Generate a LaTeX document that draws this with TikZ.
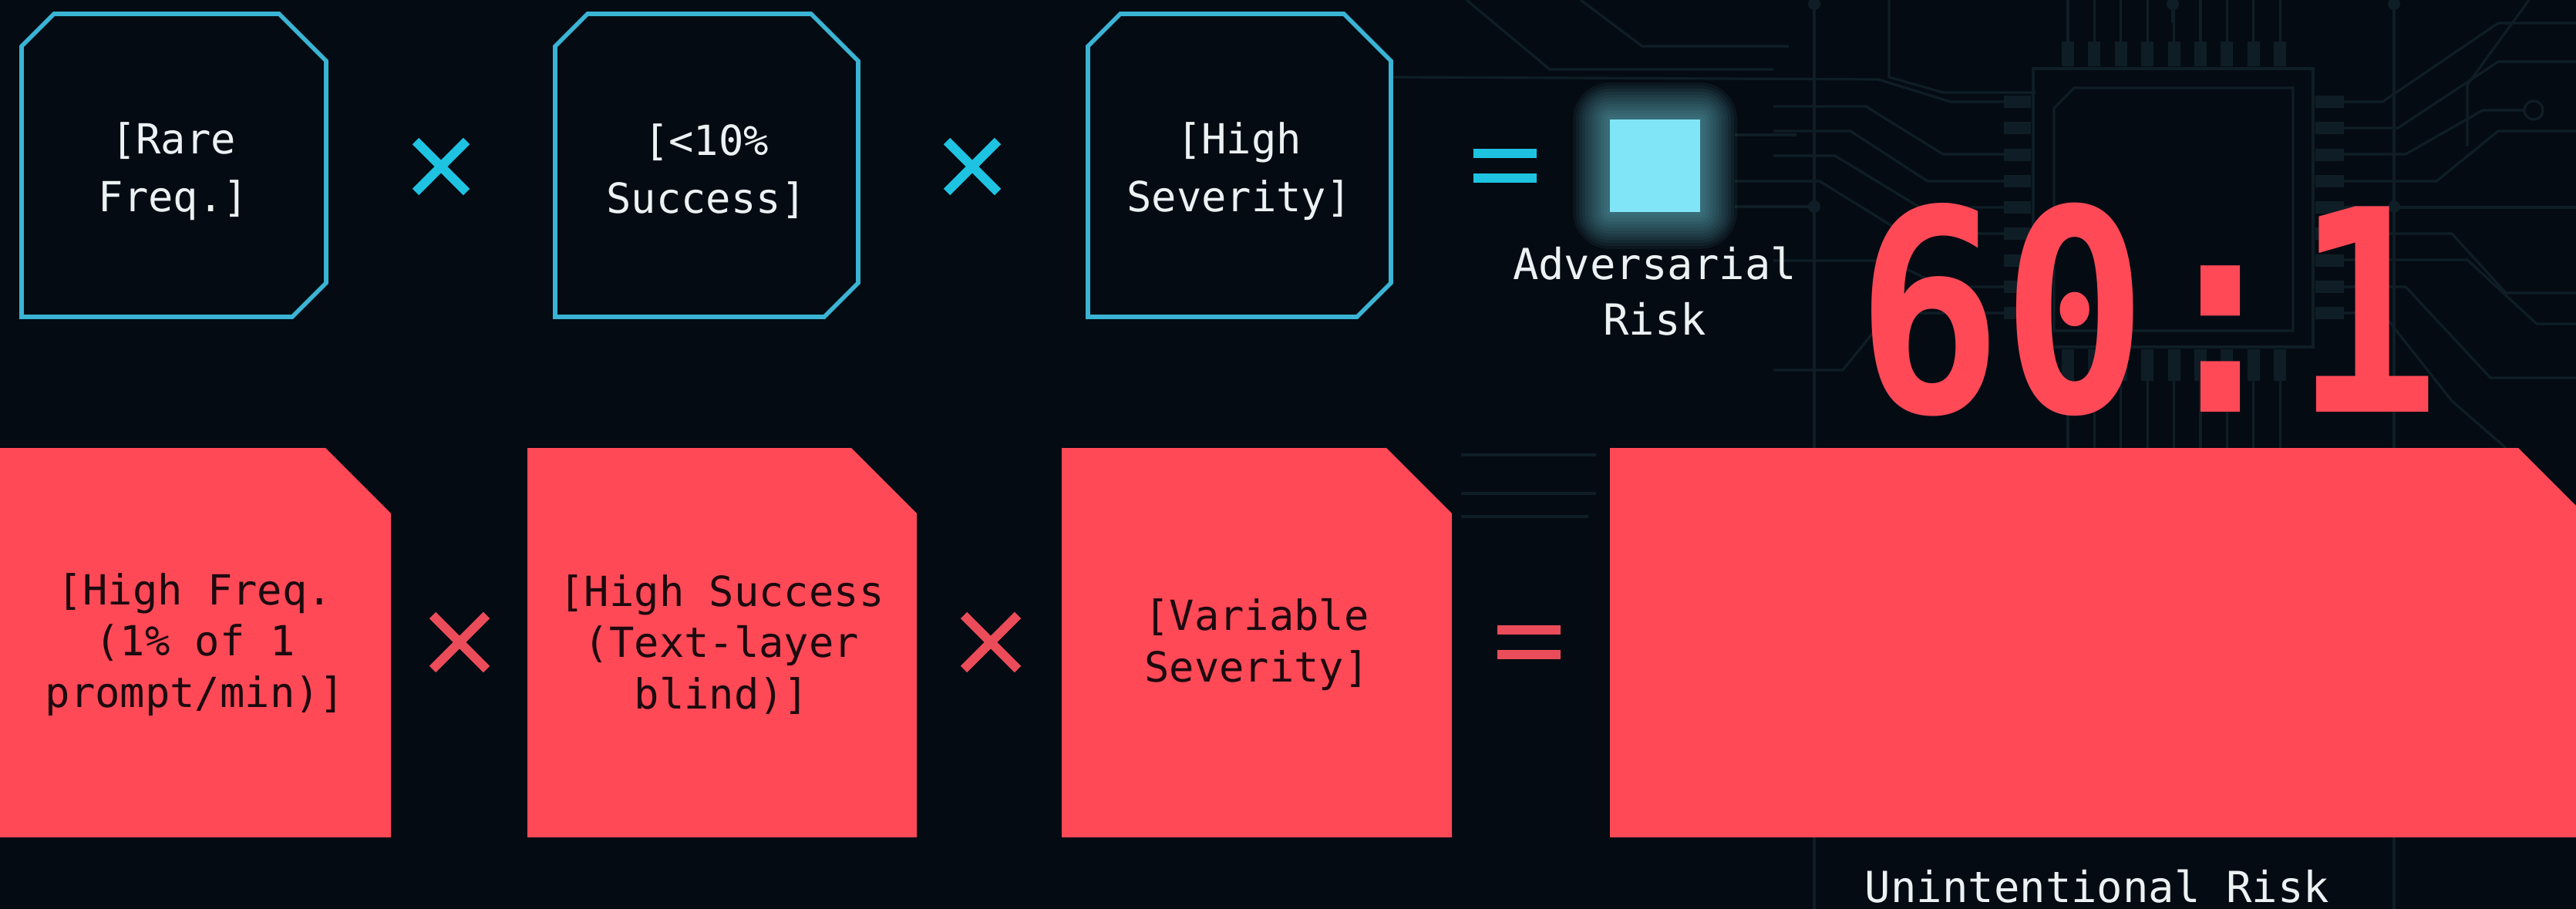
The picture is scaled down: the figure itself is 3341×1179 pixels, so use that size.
\documentclass[tikz,border=0pt]{standalone}
\usepackage{fontspec}
\newfontfamily\mono{DejaVu Sans Mono}
\definecolor{bg}{HTML}{050B13}
\definecolor{trace}{HTML}{0F1E26}
\definecolor{cyanline}{HTML}{3AB4D4}
\definecolor{cyanop}{HTML}{1EC3E2}
\definecolor{glowc}{HTML}{80E5F6}
\definecolor{redbox}{HTML}{FF4957}
\definecolor{redop}{HTML}{EB4C59}
\definecolor{darktext}{HTML}{1C0A0F}
\definecolor{lighttext}{HTML}{ECF1F3}
\tikzset{
  cyanbox/.style={draw=cyanline, line width=1.6pt, fill=bg, line join=miter},
  redshape/.style={fill=redbox},
  toptext/.style={font=\mono\fontsize{15.3}{21.3}\selectfont, text=lighttext, align=center, inner sep=0pt},
  bottext/.style={font=\mono\fontsize{15.3}{19}\selectfont, text=darktext, align=center, inner sep=0pt},
  captext/.style={font=\mono\fontsize{15.8}{20.5}\selectfont, text=lighttext, align=center, inner sep=0pt},
  cyanstroke/.style={draw=cyanop, line width=3.4pt},
  redstroke/.style={draw=redop, line width=3.4pt},
  tr/.style={draw=trace, line width=0.9pt},
}
\begin{document}
\begin{tikzpicture}[x=0.01cm,y=-0.01cm]
\path[use as bounding box] (0,0) rectangle (3341,1179);
\clip (0,0) rectangle (3341,1179);
\fill[bg] (0,0) rectangle (3341,1179);

% ---------- background circuit ----------
\draw[tr] (2353,0) -- (2353,1179);
\draw[tr] (3105,0) -- (3105,1179);
\draw[tr] (2818,0) -- (2818,30);
\foreach \p in {(2353,268),(3105,268),(2818,5),(3105,5),(2353,5)}
  \fill[trace] \p circle (8);
% chip
\draw[tr] (2637,89) rectangle (3000,450);
\draw[tr] (2664,140) -- (2690,114) -- (2974,114) -- (2974,429) -- (2664,429) -- cycle;
\foreach \i in {0,...,8}{
  \pgfmathsetmacro\xx{2682+34.4*\i}
  \fill[trace] (\xx-8,54) rectangle (\xx+8,86);
  \draw[tr] (\xx,0) -- (\xx,54);
  \fill[trace] (\xx-8,453) rectangle (\xx+8,494);
  \draw[tr] (\xx,494) -- (\xx,581);
  \pgfmathsetmacro\yy{132+34.3*\i}
  \fill[trace] (2599,\yy-8) rectangle (2634,\yy+8);
  \fill[trace] (3003,\yy-8) rectangle (3040,\yy+8);
}
% left traces
\draw[tr] (1808,100) -- (2436,103) -- (2530,132) -- (2599,132);
\draw[tr] (2300,138) -- (2420,138) -- (2520,200) -- (2599,200);
\draw[tr] (2300,170) -- (2400,170) -- (2500,235) -- (2599,235);
\draw[tr] (2300,202) -- (2380,202) -- (2490,269) -- (2599,269);
\draw[tr] (2250,235) -- (2360,235) -- (2470,303) -- (2599,303);
\draw[tr] (2250,268) -- (2353,268);
\draw[tr] (2300,338) -- (2450,338) -- (2520,372) -- (2599,372);
\draw[tr] (2300,480) -- (2390,480) -- (2450,406) -- (2599,406);
\draw[tr] (1902,0) -- (2010,90) -- (2300,90);
\draw[tr] (2050,0) -- (2130,60) -- (2320,60);
\draw[tr] (2450,0) -- (2450,100) -- (2520,120) -- (2640,120);
\draw[tr] (2250,175) -- (2330,175);
% right traces
\draw[tr] (3040,132) -- (3090,132) -- (3240,30) -- (3341,30);
\draw[tr] (3040,166) -- (3110,166) -- (3240,80) -- (3341,80);
\draw[tr] (3040,200) -- (3120,200) -- (3220,143) -- (3274,143);
\draw[trace, line width=0.9pt] (3286,143) circle (12);
\draw[tr] (3040,235) -- (3160,235) -- (3240,170) -- (3341,170);
\draw[tr] (3040,269) -- (3341,269);
\draw[tr] (3040,303) -- (3180,303) -- (3250,380) -- (3341,380);
\draw[tr] (3040,337) -- (3200,337) -- (3290,420) -- (3341,420);
\draw[tr] (3040,372) -- (3120,372) -- (3230,490) -- (3341,490);
\draw[tr] (3040,406) -- (3090,406) -- (3180,520) -- (3250,581);
\draw[tr] (3280,0) -- (3200,110) -- (3200,190);
% lower faint traces
\draw[tr] (1895,590) -- (2070,590);
\draw[tr] (1895,640) -- (2070,640);
\draw[tr] (1895,670) -- (2060,670);

% ---------- top row (cyan) ----------
\path[cyanbox] (28,60) -- (70,18) -- (362,18) -- (423,79) -- (423,367) -- (379,411) -- (28,411) -- cycle;
\path[cyanbox] (720,60) -- (762,18) -- (1052,18) -- (1113,79) -- (1113,367) -- (1069,411) -- (720,411) -- cycle;
\path[cyanbox] (1411,60) -- (1453,18) -- (1743,18) -- (1804,79) -- (1804,367) -- (1760,411) -- (1411,411) -- cycle;
\node[toptext] (t1) at (225,222) {[Rare\\Freq.]};
\node[toptext] (t2) at (916,222) {[<10\%\\Success]};
\node[toptext] (t3) at (1607,222) {[High\\Severity]};

\draw[cyanstroke] (539,183) -- (605,249) (539,249) -- (605,183);
\draw[cyanstroke] (1228,183) -- (1294,249) (1228,249) -- (1294,183);
\draw[cyanstroke] (1911,199) -- (1993,199) (1911,231) -- (1993,231);

% glowing square
\foreach \g in {48,44,...,4}
  \fill[glowc, opacity=0.05, rounded corners=\g*0.01cm] (2088-\g,155-\g) rectangle (2205+\g,275+\g);
\fill[glowc] (2088,155) rectangle (2205,275);
\node[captext] (adv) at (2146,378) {Adversarial\\Risk};

% ratio
\node[font=\mono\bfseries\fontsize{104}{104}\selectfont, text=redbox, xscale=0.86, inner sep=0pt] (ratio) at (2786,402) {60:1};

% ---------- bottom row (red) ----------
\path[redshape] (0,581) -- (422,581) -- (507,666) -- (507,1086) -- (0,1086) -- cycle;
\path[redshape] (684,581) -- (1104,581) -- (1189,666) -- (1189,1086) -- (684,1086) -- cycle;
\path[redshape] (1377,581) -- (1798,581) -- (1883,666) -- (1883,1086) -- (1377,1086) -- cycle;
\path[redshape] (2088,581) -- (3266,581) -- (3351,666) -- (3351,1086) -- (2088,1086) -- cycle;
\node[bottext] (b1) at (253,836) {[High Freq.\\(1\% of 1\\prompt/min)]};
\node[bottext] (b2) at (936,836) {[High Success\\(Text-layer\\blind)]};
\node[bottext] (b3) at (1630,836) {[Variable\\Severity]};

\draw[redstroke] (561,798) -- (631,868) (561,868) -- (631,798);
\draw[redstroke] (1250,798) -- (1320,868) (1250,868) -- (1320,798);
\draw[redstroke] (1942,817) -- (2024,817) (1942,849) -- (2024,849);

\node[captext, anchor=base] (unint) at (2720,1170) {Unintentional Risk};
\end{tikzpicture}
\end{document}
